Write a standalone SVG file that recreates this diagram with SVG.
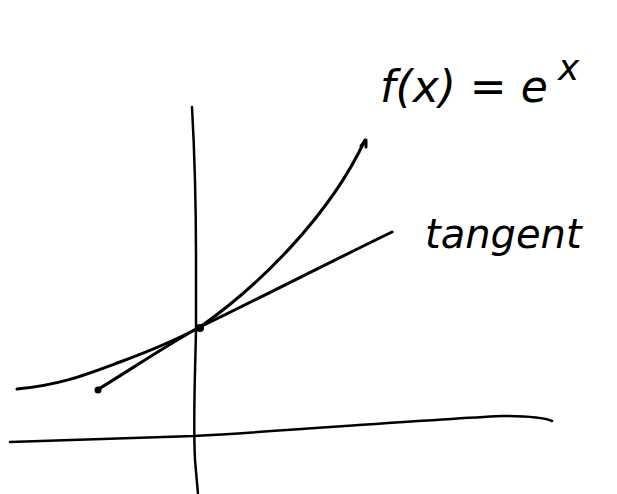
<svg xmlns="http://www.w3.org/2000/svg" width="617" height="494" viewBox="0 0 617 494">
<style>
.ln{fill:none;stroke:#000;stroke-width:3;stroke-linecap:round;stroke-linejoin:round}
.ax{fill:none;stroke:#000;stroke-width:2.5;stroke-linecap:round}
.lbl{font-family:"DejaVu Sans","Liberation Sans",sans-serif;fill:#000}
</style>
<rect width="617" height="494" fill="#fff"/>
<g id="axes">
<path id="y-axis" class="ax" d="M192,107 C195,160 196,190 196,260 L196,330 C195,380 193,420 195,460 L198,494"/>
<path id="x-axis" class="ax" d="M10,442 C70,440 130,438 194,436 C300,430 420,420 502,416 C530,416 545,418 552,421"/>
</g>
<g id="connectors">
<path id="exp-curve" class="ln" d="M17,389 C60,385 85,375 120,362 C155,349 180,338 200,327 C260,285 330,215 365,140"/>
<path id="exp-tip" class="ln" d="M361,146 L366,140 L366,147"/>
<path id="tangent" class="ln" d="M97,390 C130,370 170,343 200,327 C260,298 330,262 392,232"/>
<circle cx="98" cy="390" r="3.5" fill="#000"/>
<circle cx="200" cy="328" r="4" fill="#000"/>
</g>
<g id="label-fx">
<text class="lbl" x="380" y="102" font-size="44" font-style="italic">f(x) = e</text>
<text class="lbl" x="558" y="80" font-size="36" font-style="italic">x</text>
</g>
<g id="label-tangent">
<text class="lbl" x="425" y="248" font-size="40" font-style="italic">tangent</text>
</g>
</svg>
